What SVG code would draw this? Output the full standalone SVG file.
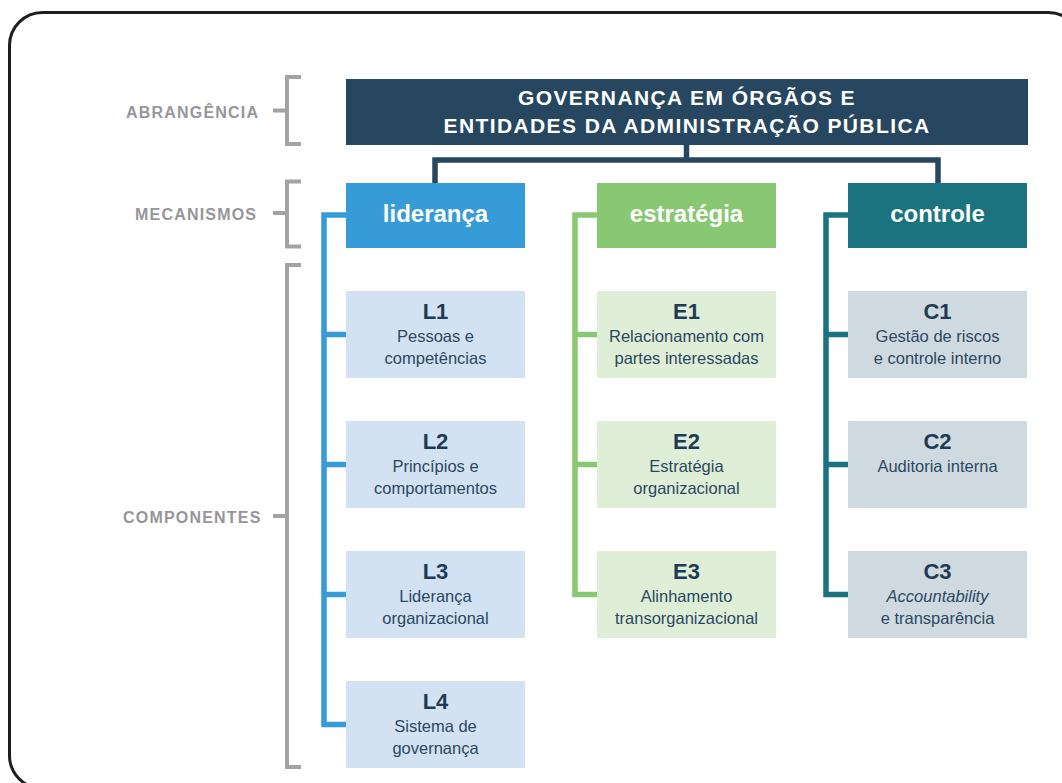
<svg xmlns="http://www.w3.org/2000/svg" width="1062" height="783" viewBox="0 0 1062 783">
  <style>
    .frame { fill: none; stroke: #1e1e1e; stroke-width: 3; }
    .lvl { font-family: "Liberation Sans", Arial, sans-serif; font-weight: bold; font-size: 16px; fill: #96969a; letter-spacing: 1.2px; }
    .brk { fill: none; stroke: #a3a3a7; stroke-width: 4; }
    .title { fill: #26475f; }
    .ttl { font-family: "Liberation Sans", Arial, sans-serif; font-weight: bold; font-size: 21px; fill: #ffffff; letter-spacing: 1.4px; text-anchor: middle; }
    .mech { font-family: "Liberation Sans", Arial, sans-serif; font-weight: bold; font-size: 24px; fill: #ffffff; text-anchor: middle; }
    .code { font-family: "Liberation Sans", Arial, sans-serif; font-weight: bold; font-size: 22px; fill: #1e3a55; text-anchor: middle; }
    .desc { font-family: "Liberation Sans", Arial, sans-serif; font-size: 16.5px; fill: #2b4862; text-anchor: middle; }
    .it { font-style: italic; }
    .L { fill: #d2e2f3; }
    .E { fill: #dfeed7; }
    .C { fill: #cfdae0; }
    .conn { fill: none; stroke-width: 5.5; stroke-linejoin: miter; }
  </style>

  <rect class="frame" x="9.5" y="12.5" width="1072" height="776" rx="33" ry="33"/>

  <g id="levels">
    <text class="lvl" x="126" y="117.5">ABRANGÊNCIA</text>
    <path class="brk" d="M273,110.5 H287 M301,77 H287 V144 H301"/>
    <text class="lvl" x="135" y="220">MECANISMOS</text>
    <path class="brk" d="M273,213 H287 M301,181.5 H287 V246.5 H301"/>
    <text class="lvl" x="123" y="522.5">COMPONENTES</text>
    <path class="brk" d="M273,516 H287 M301,265 H287 V767 H301"/>
  </g>

  <g id="connectors">
    <path class="conn" stroke="#26475f" d="M686.5,145 V160 M435,183 V160 H938 V183"/>
    <path class="conn" stroke="#369bd6" d="M346,215 H324 V724.5 H346 M324,334.5 H346 M324,464.5 H346 M324,594.5 H346"/>
    <path class="conn" stroke="#88c872" d="M597,215 H575 V594.5 H597 M575,334.5 H597 M575,464.5 H597"/>
    <path class="conn" stroke="#1b7380" d="M848,215 H826 V594.5 H848 M826,334.5 H848 M826,464.5 H848"/>
  </g>

  <g id="governanca">
    <rect class="title" x="346" y="79" width="682" height="66"/>
    <text class="ttl" x="687" y="105">GOVERNANÇA EM ÓRGÃOS E</text>
    <text class="ttl" x="687" y="133">ENTIDADES DA ADMINISTRAÇÃO PÚBLICA</text>
  </g>

  <g id="lideranca">
    <rect x="346" y="183" width="179" height="65" fill="#369bd6"/>
    <text class="mech" x="435.5" y="222">liderança</text>
  </g>
  <g id="estrategia">
    <rect x="597" y="183" width="179" height="65" fill="#88c872"/>
    <text class="mech" x="686.5" y="222">estratégia</text>
  </g>
  <g id="controle">
    <rect x="848" y="183" width="179" height="65" fill="#1b7380"/>
    <text class="mech" x="937.5" y="222">controle</text>
  </g>

  <g id="L1">
    <rect class="L" x="346" y="291" width="179" height="87"/>
    <text class="code" x="435.5" y="319">L1</text>
    <text class="desc" x="435.5" y="342">Pessoas e</text>
    <text class="desc" x="435.5" y="364">competências</text>
  </g>
  <g id="L2">
    <rect class="L" x="346" y="421" width="179" height="87"/>
    <text class="code" x="435.5" y="449">L2</text>
    <text class="desc" x="435.5" y="472">Princípios e</text>
    <text class="desc" x="435.5" y="494">comportamentos</text>
  </g>
  <g id="L3">
    <rect class="L" x="346" y="551" width="179" height="87"/>
    <text class="code" x="435.5" y="579">L3</text>
    <text class="desc" x="435.5" y="602">Liderança</text>
    <text class="desc" x="435.5" y="624">organizacional</text>
  </g>
  <g id="L4">
    <rect class="L" x="346" y="681" width="179" height="87"/>
    <text class="code" x="435.5" y="709">L4</text>
    <text class="desc" x="435.5" y="732">Sistema de</text>
    <text class="desc" x="435.5" y="754">governança</text>
  </g>

  <g id="E1">
    <rect class="E" x="597" y="291" width="179" height="87"/>
    <text class="code" x="686.5" y="319">E1</text>
    <text class="desc" x="686.5" y="342">Relacionamento com</text>
    <text class="desc" x="686.5" y="364">partes interessadas</text>
  </g>
  <g id="E2">
    <rect class="E" x="597" y="421" width="179" height="87"/>
    <text class="code" x="686.5" y="449">E2</text>
    <text class="desc" x="686.5" y="472">Estratégia</text>
    <text class="desc" x="686.5" y="494">organizacional</text>
  </g>
  <g id="E3">
    <rect class="E" x="597" y="551" width="179" height="87"/>
    <text class="code" x="686.5" y="579">E3</text>
    <text class="desc" x="686.5" y="602">Alinhamento</text>
    <text class="desc" x="686.5" y="624">transorganizacional</text>
  </g>

  <g id="C1">
    <rect class="C" x="848" y="291" width="179" height="87"/>
    <text class="code" x="937.5" y="319">C1</text>
    <text class="desc" x="937.5" y="342">Gestão de riscos</text>
    <text class="desc" x="937.5" y="364">e controle interno</text>
  </g>
  <g id="C2">
    <rect class="C" x="848" y="421" width="179" height="87"/>
    <text class="code" x="937.5" y="449">C2</text>
    <text class="desc" x="937.5" y="472">Auditoria interna</text>
  </g>
  <g id="C3">
    <rect class="C" x="848" y="551" width="179" height="87"/>
    <text class="code" x="937.5" y="579">C3</text>
    <text class="desc it" x="937.5" y="602">Accountability</text>
    <text class="desc" x="937.5" y="624">e transparência</text>
  </g>
</svg>
